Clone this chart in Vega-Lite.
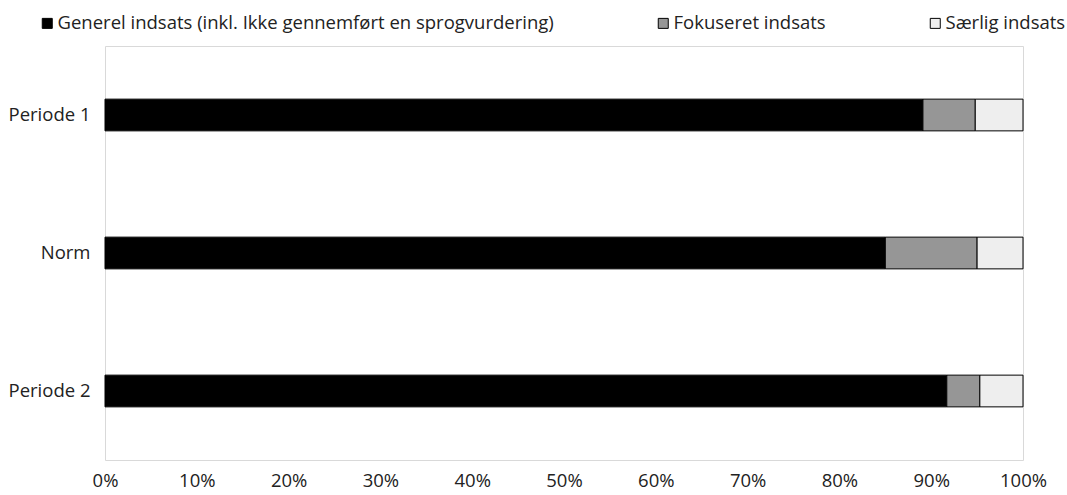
{
  "$schema": "https://vega.github.io/schema/vega-lite/v6.json",
  "width": 918,
  "height": 414,
  "autosize": {"type": "none"},
  "padding": {"left": 105, "top": 46, "right": 44, "bottom": 35},
  "background": "white",
  "config": {
    "font": "Open Sans",
    "view": {"stroke": "#d9d9d9", "strokeWidth": 1}
  },
  "data": {
    "values": [
      {"periode": "Periode 1", "indsats": "Generel indsats (inkl. Ikke gennemført en sprogvurdering)", "k": 1, "andel": 0.891},
      {"periode": "Periode 1", "indsats": "Fokuseret indsats", "k": 2, "andel": 0.057},
      {"periode": "Periode 1", "indsats": "Særlig indsats", "k": 3, "andel": 0.052},
      {"periode": "Norm", "indsats": "Generel indsats (inkl. Ikke gennemført en sprogvurdering)", "k": 1, "andel": 0.85},
      {"periode": "Norm", "indsats": "Fokuseret indsats", "k": 2, "andel": 0.10},
      {"periode": "Norm", "indsats": "Særlig indsats", "k": 3, "andel": 0.05},
      {"periode": "Periode 2", "indsats": "Generel indsats (inkl. Ikke gennemført en sprogvurdering)", "k": 1, "andel": 0.917},
      {"periode": "Periode 2", "indsats": "Fokuseret indsats", "k": 2, "andel": 0.036},
      {"periode": "Periode 2", "indsats": "Særlig indsats", "k": 3, "andel": 0.047}
    ]
  },
  "mark": {"type": "bar", "stroke": "#000000", "strokeWidth": 1},
  "encoding": {
    "y": {
      "field": "periode",
      "type": "nominal",
      "sort": ["Periode 1", "Norm", "Periode 2"],
      "scale": {"paddingInner": 0.77, "paddingOuter": 0.385},
      "axis": {"title": null, "domain": false, "ticks": false, "labelFontSize": 18.5, "labelColor": "#222222", "labelPadding": 15}
    },
    "x": {
      "field": "andel",
      "type": "quantitative",
      "stack": "zero",
      "scale": {"domain": [0, 1], "nice": false},
      "axis": {"title": null, "format": ".0%", "values": [0, 0.1, 0.2, 0.3, 0.4, 0.5, 0.6, 0.7, 0.8, 0.9, 1], "domain": false, "ticks": false, "grid": false, "labelFlush": false, "labelFontSize": 18.5, "labelColor": "#222222", "labelPadding": 11}
    },
    "order": {"field": "k", "type": "quantitative"},
    "color": {
      "field": "indsats",
      "type": "nominal",
      "scale": {
        "domain": ["Generel indsats (inkl. Ikke gennemført en sprogvurdering)", "Fokuseret indsats", "Særlig indsats"],
        "range": ["#000000", "#969696", "#eeeeee"]
      },
      "legend": {
        "title": null,
        "orient": "none",
        "legendX": -67,
        "legendY": -32,
        "direction": "horizontal",
        "columns": 3,
        "columnPadding": 100,
        "symbolType": "square",
        "symbolSize": 100,
        "symbolStrokeColor": "#000000",
        "symbolStrokeWidth": 1,
        "labelFontSize": 18.5,
        "labelColor": "#222222",
        "labelLimit": 700,
        "labelOffset": 1
      }
    }
  }
}
